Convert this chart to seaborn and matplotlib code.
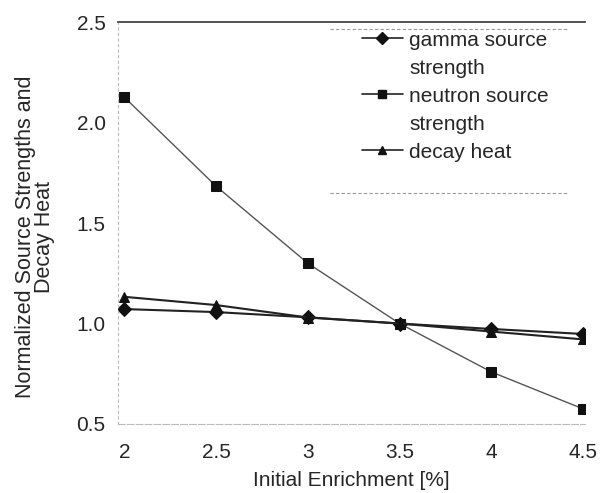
import matplotlib
matplotlib.use("Agg")
import matplotlib.pyplot as plt
from matplotlib.lines import Line2D
import seaborn as sns
import pandas as pd

enrichment = [2.0, 2.5, 3.0, 3.5, 4.0, 4.5]
gamma = [1.072, 1.057, 1.031, 1.0, 0.973, 0.948]
neutron = [2.127, 1.684, 1.30, 1.0, 0.759, 0.575]
decay = [1.133, 1.092, 1.03, 1.0, 0.96, 0.921]
series_names = ["gamma source strength", "neutron source strength", "decay heat"]
legend_lines = [["gamma source", "strength"], ["neutron source", "strength"], ["decay heat"]]
xticks = [2, 2.5, 3, 3.5, 4, 4.5]
xticklabels = ["2", "2.5", "3", "3.5", "4", "4.5"]
yticks = [0.5, 1.0, 1.5, 2.0, 2.5]
yticklabels = ["0.5", "1.0", "1.5", "2.0", "2.5"]

df = pd.concat([
    pd.DataFrame({"x": enrichment, "y": gamma, "s": series_names[0]}),
    pd.DataFrame({"x": enrichment, "y": neutron, "s": series_names[1]}),
    pd.DataFrame({"x": enrichment, "y": decay, "s": series_names[2]}),
])

sns.set_style("white")
plt.rcParams["font.family"] = ["Liberation Sans", "DejaVu Sans"]

fig = plt.figure(figsize=(6, 4.93), dpi=100)
ax = fig.add_axes([0.197, 0.14, 0.778, 0.815])

sns.lineplot(data=df, x="x", y="y", hue="s", style="s",
             markers={series_names[0]: "D", series_names[1]: "s", series_names[2]: "^"},
             dashes=False,
             palette={series_names[0]: "#222222", series_names[1]: "#555555",
                      series_names[2]: "#222222"},
             size="s", sizes={series_names[0]: 1.5, series_names[1]: 1.0, series_names[2]: 1.5},
             markersize=7, markeredgecolor="#111111", markerfacecolor="#111111",
             ax=ax, legend=True)

handles, labels = ax.get_legend_handles_labels()
hmap = {}
for h, l in zip(handles, labels):
    if l in series_names and l not in hmap:
        hmap[l] = h
ax.get_legend().remove()

ax.set_xlim(1.967, 4.51)
ax.set_ylim(0.5, 2.5)
ax.set_xticks(xticks)
ax.set_xticklabels(xticklabels, fontsize=15)
ax.set_yticks(yticks)
ax.set_yticklabels(yticklabels, fontsize=15)
ax.tick_params(axis="y", length=3, color="#aaaaaa", pad=6)
ax.tick_params(axis="x", length=0, pad=14)

for side in ["left", "right", "bottom"]:
    ax.spines[side].set_color("#bbbbbb")
    ax.spines[side].set_linewidth(0.8)
ax.spines["left"].set_linestyle((0, (2, 3)))
ax.spines["bottom"].set_linestyle((0, (6, 2)))
ax.spines["right"].set_visible(False)
ax.spines["top"].set_color("#333333")
ax.spines["top"].set_linewidth(1.2)

ax.set_xlabel("Initial Enrichment [%]", fontsize=15, labelpad=6)
ax.set_ylabel("Normalized Source Strengths and\nDecay Heat", fontsize=15.5, linespacing=0.9)
ax.yaxis.set_label_coords(-0.135, 0.465)

blank = Line2D([], [], alpha=0)
leg_handles, leg_labels = [], []
for name, lines in zip(series_names, legend_lines):
    h = hmap[name]
    lh = Line2D([], [], color="#222222", linewidth=1.2, marker=h.get_marker(),
                markersize=6, markerfacecolor="#111111", markeredgecolor="#111111")
    leg_handles.append(lh)
    leg_labels.append(lines[0])
    for extra in lines[1:]:
        leg_handles.append(blank)
        leg_labels.append(extra)

leg = ax.legend(leg_handles, leg_labels, loc="upper left", bbox_to_anchor=(0.49, 1.015),
                frameon=False, fontsize=15, handlelength=2.0, handletextpad=0.3,
                labelspacing=0.43, borderpad=0.2)
ax.hlines([0.983, 0.575], 0.454, 0.961, transform=ax.transAxes,
          color="#999999", linewidth=0.8, linestyles=(0, (3, 2)))

fig.savefig("out.png", dpi=100)
